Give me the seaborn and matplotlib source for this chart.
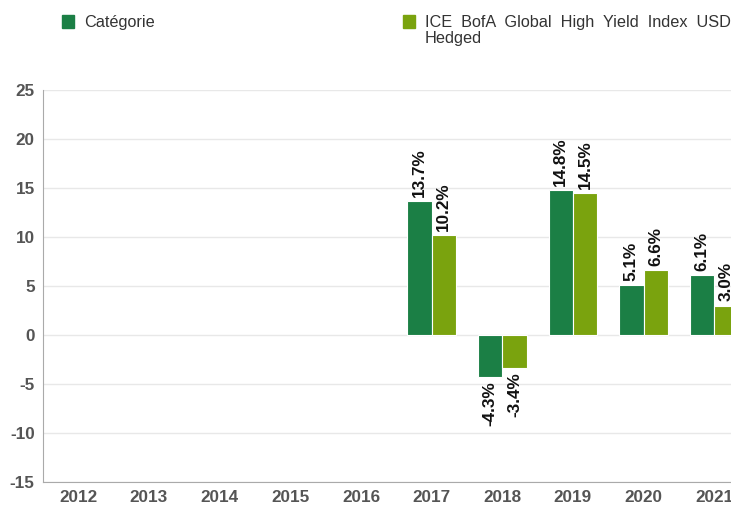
import pandas as pd
import seaborn as sns
from matplotlib import pyplot as plt
from matplotlib.patches import Rectangle

years = ["2012", "2013", "2014", "2015", "2016", "2017", "2018", "2019", "2020", "2021"]
categorie = [None, None, None, None, None, 13.7, -4.3, 14.8, 5.1, 6.1]
indice = [None, None, None, None, None, 10.2, -3.4, 14.5, 6.6, 3.0]
series_names = ["Catégorie", "ICE BofA Global High Yield Index USD Hedged"]
colors = ["#1b7f45", "#7aa30e"]
yticks = [-15, -10, -5, 0, 5, 10, 15, 20, 25]

df = pd.DataFrame({
    "year": years * 2,
    "value": categorie + indice,
    "serie": [series_names[0]] * len(years) + [series_names[1]] * len(years),
})
df = df.dropna()

sns.set_style("white")
plt.rcParams["font.family"] = ["Liberation Sans", "DejaVu Sans"]

fig = plt.figure(figsize=(7.31, 5.05), dpi=100)
ax = fig.add_axes([0.0588, 0.0455, 0.9666, 0.7763])

sns.barplot(data=df, x="year", y="value", hue="serie", order=years, hue_order=series_names,
            palette=colors, width=0.69, edgecolor="white", linewidth=0.8, legend=False, ax=ax,
            saturation=1)

for cont in ax.containers:
    ax.bar_label(cont, fmt="%.1f%%", rotation=90, padding=3, fontsize=12.3,
                 fontweight="bold", color="#111111")

ax.set_xlim(-0.5, 9.5)
ax.set_ylim(-15, 25)
ax.set_yticks(yticks)
ax.set_yticklabels([str(t) for t in yticks])
ax.set_xlabel("")
ax.set_ylabel("")
ax.grid(axis="y", color="#e8e8e8", linewidth=1)
ax.set_axisbelow(True)
for s in ["top", "right"]:
    ax.spines[s].set_visible(False)
ax.spines["left"].set_color("#aaaaaa")
ax.spines["bottom"].set_color("#aaaaaa")
ax.tick_params(axis="both", length=0, labelsize=12.3, colors="#555555", pad=6)
for lbl in ax.get_xticklabels() + ax.get_yticklabels():
    lbl.set_fontweight("bold")

# legend drawn at the top
W, H = 731, 505
for (x0, name, col) in [(62, "Catégorie", colors[0]),
                         (403, "ICE  BofA  Global  High  Yield  Index  USD\nHedged", colors[1])]:
    fig.patches.append(Rectangle((x0 / W, 1 - 28 / H), 12 / W, 13 / H,
                                 transform=fig.transFigure, color=col))
    fig.text((x0 + 22) / W, 1 - 15 / H, name, fontsize=11.7, color="#333333",
             va="top", ha="left", linespacing=1.1)

fig.savefig("out.png", dpi=100)
